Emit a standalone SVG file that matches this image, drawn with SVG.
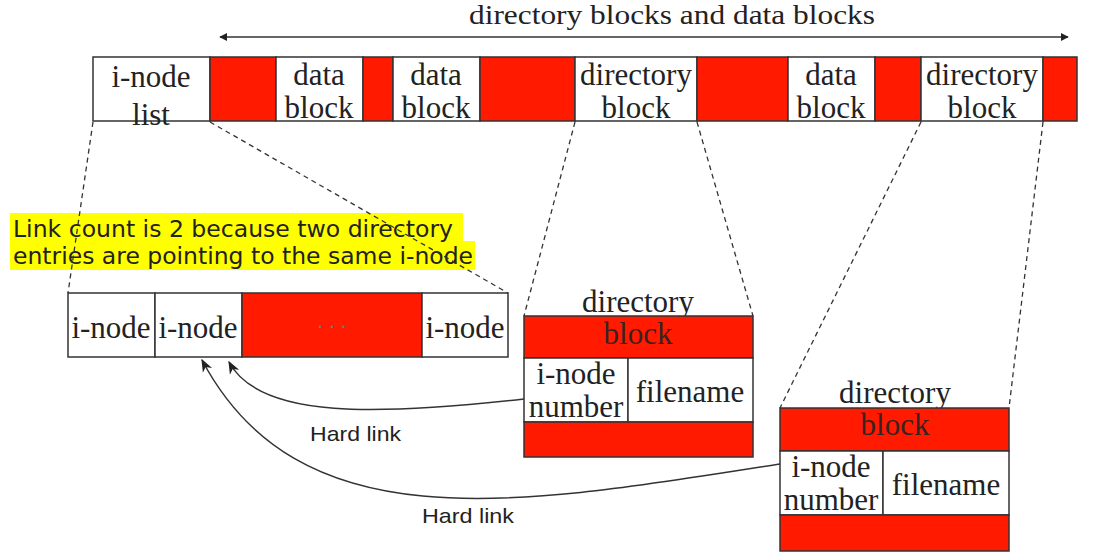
<svg xmlns="http://www.w3.org/2000/svg" width="1104" height="558" viewBox="0 0 1104 558">
<defs>
<style>
.w{fill:#fff;stroke:#333;stroke-width:1.5}
.r{fill:#ff1a00;stroke:#333;stroke-width:1.5}
.t{font-family:"Liberation Serif","Times New Roman",serif;font-size:31px;fill:#222;text-anchor:middle}
.tb{font-family:"Liberation Serif","Times New Roman",serif;font-size:31px;fill:#3a2222;text-anchor:middle}
.d{fill:none;stroke:#333;stroke-width:1.3;stroke-dasharray:5 4}
.c{fill:none;stroke:#333;stroke-width:1.5}
.s{font-family:"Liberation Sans",Arial,sans-serif;font-size:21px;fill:#222}
.y{font-family:"DejaVu Sans",Verdana,sans-serif;font-size:23px;fill:#222}
</style>
<marker id="ah" viewBox="0 0 10 10" refX="9" refY="5" markerWidth="8" markerHeight="8" markerUnits="userSpaceOnUse" orient="auto-start-reverse"><path d="M0,0 L10,5 L0,10 z" fill="#222"/></marker>
<marker id="ah2" viewBox="0 0 10 10" refX="9" refY="5" markerWidth="13" markerHeight="13" markerUnits="userSpaceOnUse" orient="auto"><path d="M0,1 L10,5 L0,9 L3,5 z" fill="#222"/></marker>
</defs>
<rect width="1104" height="558" fill="#fff"/>

<g id="title">
<text x="672" y="24" font-family="Liberation Serif,'Times New Roman',serif" font-size="28" fill="#222" text-anchor="middle" textLength="406" lengthAdjust="spacingAndGlyphs">directory blocks and data blocks</text>
<line x1="220" y1="37" x2="1068" y2="37" stroke="#333" stroke-width="1.5" marker-start="url(#ah)" marker-end="url(#ah)"/>
</g>

<g id="disk">
<rect class="w" x="93" y="57" width="117" height="64"/>
<rect class="r" x="210" y="57" width="66" height="64"/>
<rect class="w" x="276" y="57" width="87" height="64"/>
<rect class="r" x="363" y="57" width="30" height="64"/>
<rect class="w" x="393" y="57" width="87" height="64"/>
<rect class="r" x="480" y="57" width="95" height="64"/>
<rect class="w" x="575" y="57" width="122" height="64"/>
<rect class="r" x="697" y="57" width="91" height="64"/>
<rect class="w" x="788" y="57" width="87" height="64"/>
<rect class="r" x="875" y="57" width="46" height="64"/>
<rect class="w" x="921" y="57" width="122" height="64"/>
<rect class="r" x="1043" y="57" width="34" height="64"/>
<text class="t" x="151" y="87">i-node</text>
<text class="t" x="151" y="125">list</text>
<text class="t" x="319" y="85">data</text>
<text class="t" x="319" y="118">block</text>
<text class="t" x="436" y="85">data</text>
<text class="t" x="436" y="118">block</text>
<text class="t" x="636" y="85">directory</text>
<text class="t" x="636" y="118">block</text>
<text class="t" x="831" y="85">data</text>
<text class="t" x="831" y="118">block</text>
<text class="t" x="982" y="85">directory</text>
<text class="t" x="982" y="118">block</text>
</g>

<g id="note">
<rect x="10" y="213" width="453" height="30" fill="#ffff00"/>
<rect x="10" y="241" width="465" height="29" fill="#ffff00"/>
<text class="y" x="13" y="237" textLength="440" lengthAdjust="spacingAndGlyphs">Link count is 2 because two directory</text>
<text class="y" x="13" y="264" textLength="460" lengthAdjust="spacingAndGlyphs">entries are pointing to the same i-node</text>
</g>

<g id="inode-list">
<rect class="w" x="68" y="293" width="87" height="64"/>
<rect class="w" x="155" y="293" width="87" height="64"/>
<rect class="r" x="242" y="293" width="180" height="64"/>
<rect class="w" x="422" y="293" width="86" height="64"/>
<text class="t" x="111" y="338">i-node</text>
<text class="t" x="198" y="338">i-node</text>
<text x="332" y="334" font-family="Liberation Serif,serif" font-size="20" fill="#777" text-anchor="middle">· · ·</text>
<text class="t" x="465" y="338">i-node</text>
</g>

<g id="dir1">
<text class="t" x="638" y="312">directory</text>
<rect class="r" x="524" y="316" width="229" height="42"/>
<rect class="w" x="524" y="358" width="104" height="64"/>
<rect class="w" x="628" y="358" width="125" height="64"/>
<rect class="r" x="524" y="422" width="229" height="35"/>
<text class="tb" x="638" y="344">block</text>
<text class="t" x="576" y="384">i-node</text>
<text class="t" x="576" y="417">number</text>
<text class="t" x="690" y="402">filename</text>
</g>

<g id="dir2">
<text class="t" x="895" y="403">directory</text>
<rect class="r" x="780" y="408" width="229" height="43"/>
<rect class="w" x="780" y="451" width="103" height="64"/>
<rect class="w" x="883" y="451" width="126" height="64"/>
<rect class="r" x="780" y="515" width="229" height="36"/>
<text class="tb" x="895" y="435">block</text>
<text class="t" x="831" y="477">i-node</text>
<text class="t" x="831" y="510">number</text>
<text class="t" x="946" y="495">filename</text>
</g>

<g id="connectors">
<line class="d" x1="93" y1="122" x2="68" y2="293"/>
<line class="d" x1="210" y1="122" x2="508" y2="293"/>
<line class="d" x1="575" y1="122" x2="524" y2="316"/>
<line class="d" x1="697" y1="122" x2="753" y2="316"/>
<line class="d" x1="921" y1="122" x2="780" y2="408"/>
<line class="d" x1="1043" y1="122" x2="1009" y2="408"/>
<path class="c" d="M524,399 C380,415 260,420 229,362" marker-end="url(#ah2)"/>
<path class="c" d="M780,464 C520,505 300,545 202,360" marker-end="url(#ah2)"/>
<text class="s" x="310" y="441" textLength="91" lengthAdjust="spacingAndGlyphs">Hard link</text>
<text class="s" x="422" y="523" textLength="92" lengthAdjust="spacingAndGlyphs">Hard link</text>
</g>
</svg>
